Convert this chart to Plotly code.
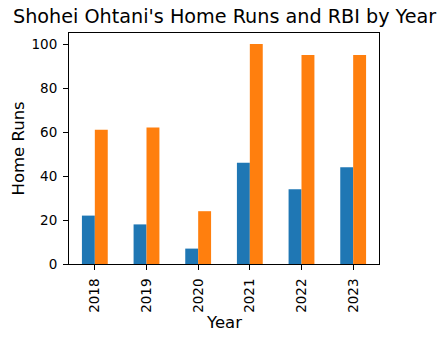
import plotly.graph_objects as go

years = ["2018", "2019", "2020", "2021", "2022", "2023"]
home_runs = [22, 18, 7, 46, 34, 44]
rbi = [61, 62, 24, 100, 95, 95]
y_ticks = [0, 20, 40, 60, 80, 100]

FONT = "DejaVu Sans"

fig = go.Figure()
fig.add_trace(go.Bar(x=years, y=home_runs, name="Home Runs", marker=dict(color="#1f77b4", line=dict(width=0))))
fig.add_trace(go.Bar(x=years, y=rbi, name="RBI", marker=dict(color="#ff7f0e", line=dict(width=0))))

fig.update_layout(
    width=448, height=340,
    margin=dict(l=69, r=69, t=33, b=76),
    paper_bgcolor="white", plot_bgcolor="white",
    barmode="group", bargap=0.5, bargroupgap=0,
    showlegend=False,
    font=dict(family=FONT, color="black", size=14),
)
fig.update_xaxes(
    type="category", range=[-0.5, 5.5],
    showline=True, linecolor="black", linewidth=1.1, mirror=True,
    ticks="outside", ticklen=5, tickwidth=1.1, tickcolor="black",
    tickangle=-90, tickfont=dict(family=FONT, size=13.5), ticklabelstandoff=3,
    showgrid=False, zeroline=False,
)
fig.update_yaxes(
    range=[0, 105], tickvals=y_ticks,
    showline=True, linecolor="black", linewidth=1.1, mirror=True,
    ticks="outside", ticklen=5, tickwidth=1.1, tickcolor="black",
    tickfont=dict(family=FONT, size=13.5), ticklabelstandoff=3,
    showgrid=False, zeroline=False,
)
fig.add_annotation(text="Shohei Ohtani's Home Runs and RBI by Year", xref="paper", yref="paper",
                   x=0.5, y=1, yshift=3, xanchor="center", yanchor="bottom", showarrow=False,
                   font=dict(family=FONT, size=19.2))
fig.add_annotation(text="Year", xref="paper", yref="paper", x=0.5, y=0, yshift=-58,
                   xanchor="center", yanchor="middle", showarrow=False,
                   font=dict(family=FONT, size=16.5))
fig.add_annotation(text="Home Runs", xref="paper", yref="paper", x=0, y=0.5, xshift=-51,
                   xanchor="center", yanchor="middle", textangle=-90, showarrow=False,
                   font=dict(family=FONT, size=16.5))

fig.write_html("out.html")
